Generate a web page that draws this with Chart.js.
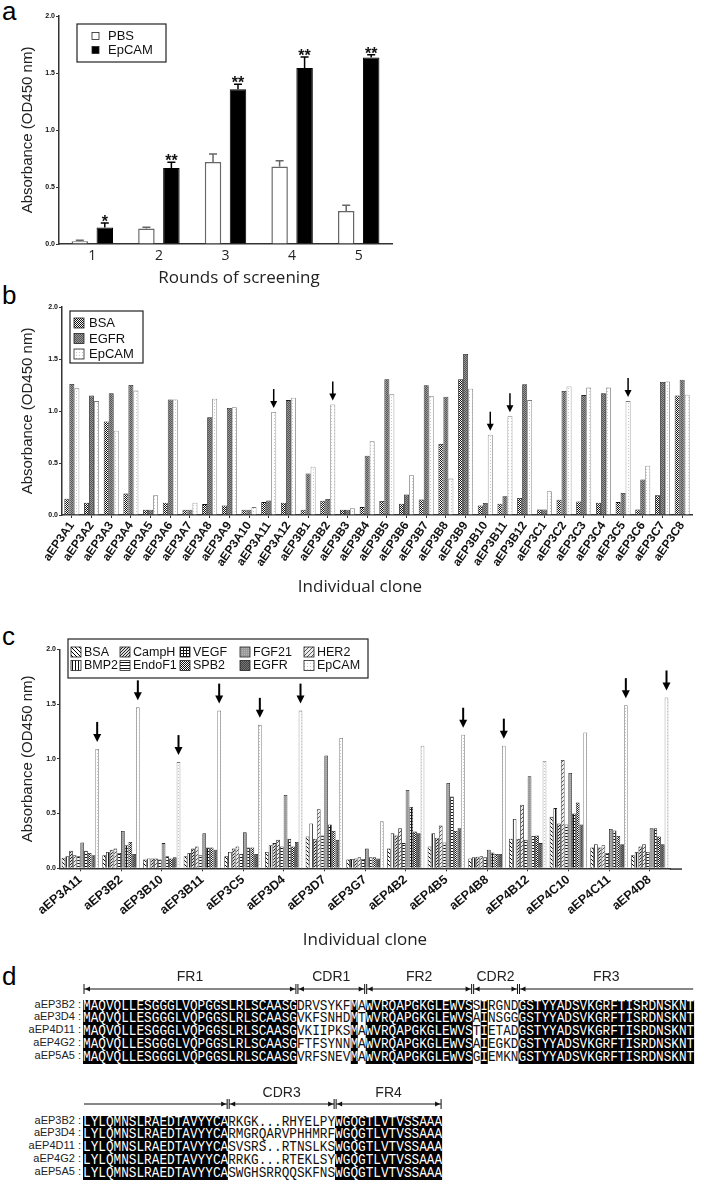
<!DOCTYPE html>
<html>
<head>
<meta charset="utf-8">
<title>EpCAM phage screening</title>
<script src="https://cdn.jsdelivr.net/npm/chart.js@4.4.0/dist/chart.umd.min.js"></script>
<style>
	body { margin: 0; width: 704px; height: 1185px; position: relative; overflow: hidden; background: #fff; font-family: "Liberation Sans", Arial, sans-serif; }
	canvas { position: absolute; left: 0; }
	.tag { position: absolute; left: 2px; font-size: 26px; line-height: 26px; color: #000; }
	.name { position: absolute; left: 0; width: 81px; text-align: right; font-size: 11px; line-height: 12.9px; color: #222; white-space: pre; }
	.seq { position: absolute; left: 83px; font-family: "Liberation Mono", monospace; font-size: 14.5px; white-space: pre; color: #111; transform: scaleX(0.878); transform-origin: 0 0; }
	.seq span { display: inline-block; height: 12.9px; line-height: 12.9px; }
	.seq .k { background: #000; color: #fff; }
</style>
</head>
<body>
<div class="tag" style="top:-2px">a</div>
<div class="tag" style="top:282px">b</div>
<div class="tag" style="top:623px">c</div>
<div class="tag" style="top:963px">d</div>
<canvas id="chartA" width="400" height="290" style="top:0"></canvas>
<canvas id="chartB" width="704" height="320" style="top:285px"></canvas>
<canvas id="chartC" width="704" height="335" style="top:620px"></canvas>
<div id="panel-d"></div>
<script>
// panel a
var rounds = ['1', '2', '3', '4', '5'];
var pbsMean = [0.025, 0.135, 0.72, 0.68, 0.29];
var pbsErr = [0.008, 0.012, 0.07, 0.05, 0.05];
var epcamMean = [0.145, 0.667, 1.357, 1.544, 1.635];
var epcamErr = [0.04, 0.05, 0.045, 0.097, 0.025];
var starMarks = ['*', '**', '**', '**', '**'];

// panel b
var clonesB = ['aEP3A1', 'aEP3A2', 'aEP3A3', 'aEP3A4', 'aEP3A5', 'aEP3A6', 'aEP3A7', 'aEP3A8', 'aEP3A9', 'aEP3A10', 'aEP3A11', 'aEP3A12',
	'aEP3B1', 'aEP3B2', 'aEP3B3', 'aEP3B4', 'aEP3B5', 'aEP3B6', 'aEP3B7', 'aEP3B8', 'aEP3B9', 'aEP3B10', 'aEP3B11', 'aEP3B12',
	'aEP3C1', 'aEP3C2', 'aEP3C3', 'aEP3C4', 'aEP3C5', 'aEP3C6', 'aEP3C7', 'aEP3C8'];
var bsaB = [0.157, 0.118, 0.90, 0.206, 0.05, 0.118, 0.05, 0.105, 0.092, 0.05, 0.124, 0.118,
	0.05, 0.138, 0.05, 0.076, 0.134, 0.109, 0.15, 0.684, 1.306, 0.092, 0.109, 0.163,
	0.053, 0.147, 0.131, 0.118, 0.124, 0.053, 0.189, 1.15];
var egfrB = [1.26, 1.15, 1.17, 1.25, 0.05, 1.11, 0.05, 0.94, 1.03, 0.05, 0.14, 1.105,
	0.40, 0.154, 0.05, 0.57, 1.306, 0.196, 1.247, 1.138, 1.549, 0.115, 0.18, 1.257,
	0.053, 1.192, 1.153, 1.17, 0.212, 0.342, 1.28, 1.30];
var epcamB = [1.218, 1.095, 0.81, 1.196, 0.19, 1.11, 0.118, 1.118, 1.037, 0.076, 0.99, 1.128,
	0.464, 1.063, 0.066, 0.71, 1.16, 0.383, 1.144, 0.35, 1.215, 0.772, 0.95, 1.105,
	0.228, 1.235, 1.225, 1.225, 1.095, 0.474, 1.283, 1.157];
var arrowsB = ['aEP3A11', 'aEP3B2', 'aEP3B10', 'aEP3B11', 'aEP3C5'];

// panel c
var clonesC = ['aEP3A11', 'aEP3B2', 'aEP3B10', 'aEP3B11', 'aEP3C5', 'aEP3D4', 'aEP3D7', 'aEP3G7', 'aEP4B2', 'aEP4B5', 'aEP4B8', 'aEP4B12', 'aEP4C10', 'aEP4C11', 'aEP4D8'];
var bsaC = [0.097, 0.12, 0.08, 0.11, 0.11, 0.15, 0.29, 0.08, 0.18, 0.20, 0.09, 0.27, 0.47, 0.19, 0.12];
var bmp2C = [0.11, 0.15, 0.09, 0.14, 0.15, 0.21, 0.41, 0.085, 0.32, 0.32, 0.10, 0.45, 0.55, 0.22, 0.15];
var camphC = [0.16, 0.17, 0.09, 0.18, 0.18, 0.23, 0.27, 0.09, 0.30, 0.28, 0.105, 0.27, 0.41, 0.19, 0.20];
var her2C = [0.12, 0.18, 0.09, 0.20, 0.20, 0.26, 0.54, 0.10, 0.365, 0.39, 0.11, 0.58, 0.99, 0.21, 0.22];
var endof1C = [0.11, 0.14, 0.08, 0.12, 0.13, 0.20, 0.30, 0.085, 0.23, 0.235, 0.10, 0.26, 0.40, 0.14, 0.15];
var fgf21C = [0.235, 0.34, 0.23, 0.32, 0.33, 0.67, 1.03, 0.18, 0.715, 0.78, 0.17, 0.84, 0.87, 0.36, 0.365];
var vegfC = [0.16, 0.21, 0.11, 0.19, 0.19, 0.27, 0.40, 0.10, 0.56, 0.655, 0.145, 0.295, 0.50, 0.345, 0.365];
var spb2C = [0.14, 0.24, 0.09, 0.19, 0.19, 0.20, 0.34, 0.10, 0.335, 0.34, 0.13, 0.30, 0.60, 0.295, 0.29];
var egfrC = [0.12, 0.13, 0.10, 0.17, 0.13, 0.24, 0.26, 0.09, 0.32, 0.365, 0.13, 0.23, 0.40, 0.22, 0.22];
var epcamC = [1.09, 1.47, 0.97, 1.44, 1.31, 1.44, 1.19, 0.43, 1.12, 1.22, 1.12, 0.98, 1.24, 1.49, 1.56];
var arrowsC = ['aEP3A11', 'aEP3B2', 'aEP3B10', 'aEP3B11', 'aEP3C5', 'aEP3D4', 'aEP4B5', 'aEP4B8', 'aEP4C11', 'aEP4D8'];

// panel d
var alignNames = ['aEP3B2', 'aEP3D4', 'aEP4D11', 'aEP4G2', 'aEP5A5'];
var fr1 = 'MAQVQLLESGGGLVQPGGSLRLSCAASG';
var cdr1 = ['DRVSYKF', 'VKFSNHD', 'VKIIPKS', 'FTFSYNN', 'VRFSNEV'];
var cdr1Tail = ['A', 'T', 'A', 'A', 'A'];
var fr2 = 'WVRQAPGKGLEWVS';
var cdr2Head = ['S', 'A', 'T', 'A', 'G'];
var cdr2 = ['RGND', 'NSGG', 'ETAD', 'EGKD', 'EMKN'];
var fr3 = 'GSTYYADSVKGRFTISRDNSKNT';
var fr3End = 'LYLQMNSLRAEDTAVYYCA';
var cdr3 = ['RKGK...RHYELPY', 'RMGRQARVPHHMRF', 'SVSRS..RTNSLKS', 'RRKG...RTEKLSY', 'SWGHSRRQQSKFNS'];
var fr4 = 'WGQGTLVTVSSAAA';


function font(size, weight, family) {
	return { family: family || 'Liberation Sans', size: size, weight: weight || 'normal' };
}

function pattern(ctx, size, bg, fg, cells) {
	var c = document.createElement('canvas');
	c.width = size;
	c.height = size;
	var g = c.getContext('2d');
	g.fillStyle = bg;
	g.fillRect(0, 0, size, size);
	g.fillStyle = fg;
	for (var i = 0; i < cells.length; i++) {
		g.fillRect(cells[i][0], cells[i][1], 1, 1);
	}
	return ctx.createPattern(c, 'repeat');
}

// legend drawn in a box, items placed by hand
var boxLegend = {
	id: 'boxLegend',
	afterDraw: function (chart, args, opts) {
		var ctx = chart.ctx;
		var s = opts.swatch;
		ctx.save();
		ctx.lineWidth = 1.2;
		ctx.strokeStyle = '#222';
		ctx.strokeRect(opts.box[0], opts.box[1], opts.box[2], opts.box[3]);
		ctx.font = opts.font;
		ctx.textBaseline = 'middle';
		for (var i = 0; i < opts.items.length; i++) {
			var it = opts.items[i];
			var ds = chart.data.datasets[it[0]];
			ctx.fillStyle = ds.backgroundColor;
			ctx.fillRect(it[1], it[2] - s / 2, s, s);
			ctx.lineWidth = 0.8;
			ctx.strokeStyle = '#222';
			ctx.strokeRect(it[1], it[2] - s / 2, s, s);
			ctx.fillStyle = '#111';
			ctx.fillText(ds.label, it[1] + s + opts.gap, it[2] + 0.5);
		}
		ctx.restore();
	}
};

// x axis title placed at a given centre
var axisTitle = {
	id: 'axisTitle',
	afterDraw: function (chart, args, opts) {
		var ctx = chart.ctx;
		ctx.save();
		ctx.font = opts.font;
		ctx.fillStyle = '#222';
		ctx.textAlign = 'center';
		ctx.textBaseline = 'middle';
		ctx.fillText(opts.text, opts.x, opts.y);
		ctx.restore();
	}
};

var errorBars = {
	id: 'errorBars',
	afterDatasetsDraw: function (chart) {
		var ctx = chart.ctx;
		var y = chart.scales.y;
		ctx.save();
		chart.data.datasets.forEach(function (ds, i) {
			var meta = chart.getDatasetMeta(i);
			meta.data.forEach(function (bar, j) {
				var top = y.getPixelForValue(ds.data[j] + ds.errors[j]);
				ctx.strokeStyle = ds.borderColor;
				ctx.lineWidth = 1.5;
				ctx.beginPath();
				ctx.moveTo(bar.x, bar.y);
				ctx.lineTo(bar.x, top);
				ctx.moveTo(bar.x - 4, top);
				ctx.lineTo(bar.x + 4, top);
				ctx.stroke();
				if (ds.stars) {
					ctx.fillStyle = '#111';
					ctx.font = 'bold 16px "Liberation Sans"';
					ctx.textAlign = 'center';
					ctx.fillText(ds.stars[j], bar.x, top + 4);
				}
			});
		});
		ctx.restore();
	}
};

var arrowMarks = {
	id: 'arrowMarks',
	afterDatasetsDraw: function (chart, args, opts) {
		var ctx = chart.ctx;
		var meta = chart.getDatasetMeta(opts.dataset);
		ctx.save();
		ctx.fillStyle = '#000';
		ctx.strokeStyle = '#000';
		ctx.lineWidth = opts.width;
		opts.targets.forEach(function (name) {
			var bar = meta.data[chart.data.labels.indexOf(name)];
			var tip = bar.y - opts.gap;
			ctx.beginPath();
			ctx.moveTo(bar.x, tip - opts.length);
			ctx.lineTo(bar.x, tip - opts.head + 1);
			ctx.stroke();
			ctx.beginPath();
			ctx.moveTo(bar.x - opts.half, tip - opts.head);
			ctx.lineTo(bar.x + opts.half, tip - opts.head);
			ctx.lineTo(bar.x, tip);
			ctx.closePath();
			ctx.fill();
		});
		ctx.restore();
	}
};

var axisExtend = {
	id: 'axisExtend',
	afterDraw: function (chart, args, opts) {
		var ctx = chart.ctx;
		var a = chart.chartArea;
		ctx.save();
		ctx.strokeStyle = '#333';
		ctx.lineWidth = 1.5;
		ctx.beginPath();
		ctx.moveTo(a.right, a.bottom + 0.75);
		ctx.lineTo(opts.to, a.bottom + 0.75);
		ctx.stroke();
		ctx.restore();
	}
};

function yAxis(width) {
	return {
		min: 0,
		max: 2,
		ticks: { stepSize: 0.5, padding: 1, color: '#111', font: font(7, 'bold'), callback: function (v) { return v.toFixed(1); } },
		grid: { display: true, drawOnChartArea: false, drawTicks: true, tickLength: 3, color: '#333' },
		border: { display: true, color: '#333', width: 1.5 },
		title: { display: true, text: 'Absorbance (OD450 nm)', color: '#222', font: font(15), padding: { top: 19, bottom: 0 } },
		afterFit: function (scale) { scale.width = width; }
	};
}

function cloneAxis(height, rotation, size) {
	return {
		ticks: { autoSkip: false, minRotation: rotation, maxRotation: rotation, padding: 1, color: '#111', font: font(size, 'bold') },
		grid: { display: true, drawOnChartArea: false, drawTicks: true, tickLength: 3, color: '#333', offset: false },
		border: { display: true, color: '#333', width: 1.5 },
		afterFit: function (scale) { scale.height = height; }
	};
}

function chartA() {
	var ctx = document.getElementById('chartA').getContext('2d');
	new Chart(ctx, {
		type: 'bar',
		data: {
			labels: rounds,
			datasets: [
				{ label: 'PBS', data: pbsMean, errors: pbsErr, backgroundColor: '#fff', borderColor: '#666', borderWidth: 1.5 },
				{ label: 'EpCAM', data: epcamMean, errors: epcamErr, stars: starMarks, backgroundColor: '#000', borderColor: '#000', borderWidth: 1 }
			]
		},
		options: {
			responsive: false,
			animation: false,
			layout: { padding: { top: 16, right: 8, left: 0, bottom: 0 } },
			datasets: { bar: { categoryPercentage: 0.75, barPercentage: 0.66 } },
			plugins: {
				legend: { display: false },
				tooltip: { enabled: false },
				boxLegend: { box: [77, 24, 89, 38], swatch: 7, gap: 9, font: '13px "Liberation Sans"', items: [[0, 92, 36], [1, 92, 50]] },
				axisTitle: { text: 'Rounds of screening', x: 239, y: 278, font: '17px "Open Sans"' }
			},
			scales: {
				x: {
					ticks: { padding: 4, color: '#222', font: font(14, 'normal', 'Open Sans') },
					grid: { display: false, drawTicks: false },
					border: { display: true, color: '#333', width: 1.5 },
					afterFit: function (scale) { scale.height = 46; }
				},
				y: yAxis(59)
			}
		},
		plugins: [errorBars, boxLegend, axisTitle]
	});
}

function chartB() {
	var ctx = document.getElementById('chartB').getContext('2d');
	new Chart(ctx, {
		type: 'bar',
		data: {
			labels: clonesB,
			datasets: [
				{ label: 'BSA', data: bsaB, backgroundColor: pattern(ctx, 2, '#111', '#fff', [[0, 0], [1, 1]]), borderColor: '#111', borderWidth: 0.8 },
				{ label: 'EGFR', data: egfrB, backgroundColor: pattern(ctx, 2, '#555', '#999', [[0, 0], [1, 1]]), borderColor: '#222', borderWidth: 0.8 },
				{ label: 'EpCAM', data: epcamB, backgroundColor: pattern(ctx, 3, '#fff', '#c8c8c8', [[1, 1]]), borderColor: '#777', borderWidth: 0.8 }
			]
		},
		options: {
			responsive: false,
			animation: false,
			layout: { padding: { top: 22, right: 12, left: 0, bottom: 0 } },
			datasets: { bar: { categoryPercentage: 0.76, barPercentage: 1 } },
			plugins: {
				legend: { display: false },
				tooltip: { enabled: false },
				boxLegend: { box: [70, 26, 73, 52], swatch: 10, gap: 5, font: '13px "Liberation Sans"', items: [[0, 74, 38], [1, 74, 53.5], [2, 74, 69]] },
				arrowMarks: { dataset: 2, targets: arrowsB, gap: 4, length: 19, head: 7, half: 3.5, width: 1.5 },
				axisTitle: { text: 'Individual clone', x: 360, y: 302, font: '17px "Open Sans"' }
			},
			scales: {
				x: cloneAxis(90, 55, 12),
				y: yAxis(62)
			}
		},
		plugins: [boxLegend, arrowMarks, axisTitle]
	});
}

function chartC() {
	var ctx = document.getElementById('chartC').getContext('2d');
	var ink = '#222';
	new Chart(ctx, {
		type: 'bar',
		data: {
			labels: clonesC,
			datasets: [
				{ label: 'BSA', data: bsaC, backgroundColor: pattern(ctx, 4, '#fff', '#000', [[0, 0], [1, 1], [2, 2], [3, 3]]), borderColor: ink, borderWidth: 0.8 },
				{ label: 'BMP2', data: bmp2C, backgroundColor: pattern(ctx, 3, '#fff', '#111', [[0, 0], [0, 1], [0, 2]]), borderColor: ink, borderWidth: 0.8 },
				{ label: 'CampH', data: camphC, backgroundColor: pattern(ctx, 3, '#ddd', '#222', [[2, 0], [1, 1], [0, 2]]), borderColor: ink, borderWidth: 0.8 },
				{ label: 'HER2', data: her2C, backgroundColor: pattern(ctx, 4, '#eee', '#555', [[3, 0], [2, 1], [1, 2], [0, 3]]), borderColor: ink, borderWidth: 0.8 },
				{ label: 'EndoF1', data: endof1C, backgroundColor: pattern(ctx, 3, '#fff', '#111', [[0, 0], [1, 0], [2, 0]]), borderColor: ink, borderWidth: 0.8 },
				{ label: 'FGF21', data: fgf21C, backgroundColor: pattern(ctx, 2, '#9a9a9a', '#b4b4b4', [[0, 0]]), borderColor: ink, borderWidth: 0.8 },
				{ label: 'VEGF', data: vegfC, backgroundColor: pattern(ctx, 3, '#fff', '#111', [[0, 0], [1, 0], [2, 0], [0, 1], [0, 2]]), borderColor: ink, borderWidth: 0.8 },
				{ label: 'SPB2', data: spb2C, backgroundColor: pattern(ctx, 2, '#111', '#fff', [[0, 0], [1, 1]]), borderColor: ink, borderWidth: 0.8 },
				{ label: 'EGFR', data: egfrC, backgroundColor: pattern(ctx, 2, '#444', '#777', [[0, 0], [1, 1]]), borderColor: ink, borderWidth: 0.8 },
				{ label: 'EpCAM', data: epcamC, backgroundColor: pattern(ctx, 3, '#fff', '#c8c8c8', [[1, 1]]), borderColor: '#777', borderWidth: 0.8 }
			]
		},
		options: {
			responsive: false,
			animation: false,
			layout: { padding: { top: 29.3, right: 34, left: 0, bottom: 0 } },
			datasets: { bar: { categoryPercentage: 0.92, barPercentage: 1 } },
			plugins: {
				legend: { display: false },
				tooltip: { enabled: false },
				boxLegend: {
					box: [68, 19, 300, 39], swatch: 10, gap: 3, font: '12.5px "Liberation Sans"',
					items: [[0, 71, 32], [2, 120, 32], [6, 180, 32], [5, 240, 32], [3, 304, 32],
						[1, 71, 45.5], [4, 120, 45.5], [7, 180, 45.5], [8, 240, 45.5], [9, 304, 45.5]]
				},
				arrowMarks: { dataset: 9, targets: arrowsC, gap: 7, length: 20, head: 8, half: 4, width: 2 },
				axisExtend: { to: 682 },
				axisTitle: { text: 'Individual clone', x: 365, y: 320, font: '17px "Open Sans"' }
			},
			scales: {
				x: cloneAxis(86.7, 40, 12.5),
				y: yAxis(60)
			}
		},
		plugins: [boxLegend, arrowMarks, axisExtend, axisTitle]
	});
}

// sequence alignment (panel d)
var svgNS = 'http://www.w3.org/2000/svg';
var seqLeft = 83;
var seqPitch = 7.64;
var rowStep = 12.9;

function svgEl(parent, tag, attrs, text) {
	var el = document.createElementNS(svgNS, tag);
	for (var k in attrs) el.setAttribute(k, attrs[k]);
	if (text) el.textContent = text;
	parent.appendChild(el);
	return el;
}

function regionBracket(svg, regions, labelY, lineY, openLeft, openRight) {
	var pos = 0;
	regions.forEach(function (r, k) {
		var x0 = seqLeft + pos * seqPitch + 1;
		var x1 = seqLeft + (pos + r[1]) * seqPitch - 1;
		pos += r[1];
		var lOpen = openLeft && k === 0;
		var rOpen = openRight && k === regions.length - 1;
		svgEl(svg, 'line', { x1: x0, y1: lineY, x2: x1, y2: lineY, stroke: '#111', 'stroke-width': 1 });
		if (!lOpen) {
			svgEl(svg, 'line', { x1: x0, y1: lineY - 5, x2: x0, y2: lineY + 5, stroke: '#111', 'stroke-width': 1 });
			svgEl(svg, 'polygon', { points: (x0 + 1) + ',' + lineY + ' ' + (x0 + 6) + ',' + (lineY - 2.5) + ' ' + (x0 + 6) + ',' + (lineY + 2.5), fill: '#111' });
		}
		if (!rOpen) {
			svgEl(svg, 'line', { x1: x1, y1: lineY - 5, x2: x1, y2: lineY + 5, stroke: '#111', 'stroke-width': 1 });
			svgEl(svg, 'polygon', { points: (x1 - 1) + ',' + lineY + ' ' + (x1 - 6) + ',' + (lineY - 2.5) + ' ' + (x1 - 6) + ',' + (lineY + 2.5), fill: '#111' });
		}
		if (r[0]) {
			svgEl(svg, 'text', { x: (x0 + x1) / 2, y: labelY, 'text-anchor': 'middle', 'dominant-baseline': 'central', 'font-family': 'Liberation Sans', 'font-size': 14, fill: '#222' }, r[0]);
		}
	});
}

function alignRow(box, centerY, name, parts) {
	var n = document.createElement('div');
	n.className = 'name';
	n.style.top = (centerY - rowStep / 2) + 'px';
	n.textContent = name + ' :';
	box.appendChild(n);
	var s = document.createElement('div');
	s.className = 'seq';
	s.style.top = (centerY - rowStep / 2) + 'px';
	parts.forEach(function (p) {
		var sp = document.createElement('span');
		if (p[1]) sp.className = 'k';
		sp.textContent = p[0];
		s.appendChild(sp);
	});
	box.appendChild(s);
}

function buildAlignment() {
	var box = document.getElementById('panel-d');
	var svg = svgEl(document.body, 'svg', { width: 704, height: 1185, style: 'position:absolute;left:0;top:0' });
	var top = [['FR1', fr1.length], ['CDR1', cdr1[0].length + 2], ['FR2', fr2.length], ['CDR2', cdr2[0].length + 2], ['FR3', fr3.length]];
	var bottom = [['', fr3End.length], ['CDR3', cdr3[0].length], ['FR4', fr4.length]];
	regionBracket(svg, top, 976, 989, false, true);
	regionBracket(svg, bottom, 1092, 1104, true, false);
	for (var i = 0; i < alignNames.length; i++) {
		alignRow(box, 1004 + i * rowStep, alignNames[i], [[fr1, 1], [cdr1[i], 0], ['M', 1], [cdr1Tail[i], 0], [fr2, 1], [cdr2Head[i], 0], ['I', 1], [cdr2[i], 0], [fr3, 1]]);
		alignRow(box, 1120 + i * rowStep, alignNames[i], [[fr3End, 1], [cdr3[i], 0], [fr4, 1]]);
	}
}

chartA();
chartB();
chartC();
buildAlignment();
</script>
</body>
</html>
